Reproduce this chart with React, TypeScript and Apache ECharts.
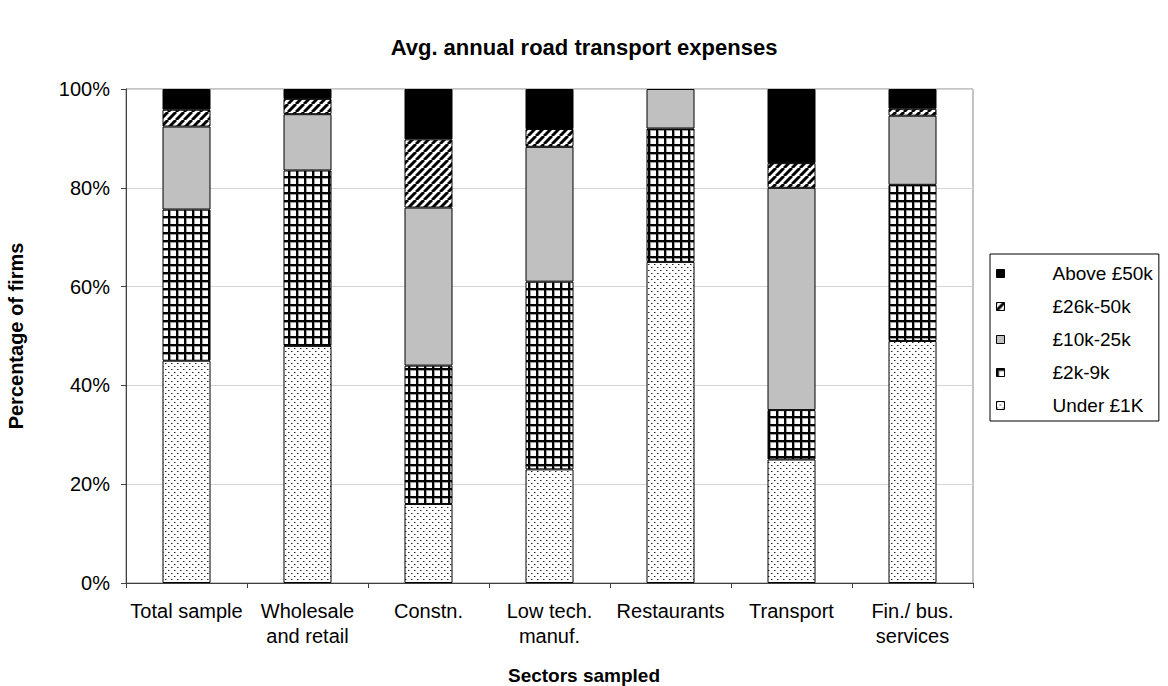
import React, { useEffect, useRef } from "react";
import * as echarts from "echarts";

const categories = [
  "Total sample",
  "Wholesale\nand retail",
  "Constn.",
  "Low tech.\nmanuf.",
  "Restaurants",
  "Transport",
  "Fin./ bus.\nservices",
];
const seriesNames = ["Under £1K", "£2k-9k", "£10k-25k", "£26k-50k", "Above £50k"];
const under1k = [45, 48, 16, 23, 65, 25, 49];
const k2to9 = [30.6, 35.5, 28, 38, 27, 10, 31.6];
const k10to25 = [16.8, 11.4, 32, 27.3, 8, 45, 14];
const k26to50 = [3.4, 3.1, 13.8, 3.6, 0, 5, 1.4];
const above50 = [4.2, 2.0, 10.2, 8.1, 0, 15, 4];
const yTicks = [0, 20, 40, 60, 80, 100];

function makePattern(kind: string): any {
  if (kind === "solidBlack") return "#000000";
  if (kind === "gray") return "#c0c0c0";
  const c = document.createElement("canvas");
  const ctx = c.getContext("2d") as CanvasRenderingContext2D;
  if (kind === "dots") {
    c.width = 6;
    c.height = 6;
    ctx.fillStyle = "#ffffff";
    ctx.fillRect(0, 0, 6, 6);
    ctx.fillStyle = "#9a9a9a";
    ctx.fillRect(1, 0, 1, 1);
    ctx.fillRect(4, 3, 1, 1);
    ctx.fillStyle = "#222222";
    ctx.fillRect(0, 0, 1, 1);
    ctx.fillRect(3, 3, 1, 1);
  } else if (kind === "grid") {
    c.width = 8;
    c.height = 8;
    ctx.fillStyle = "#ffffff";
    ctx.fillRect(0, 0, 8, 8);
    ctx.fillStyle = "#9a9a9a";
    ctx.fillRect(0, 2, 8, 1);
    ctx.fillRect(2, 0, 1, 8);
    ctx.fillStyle = "#000000";
    ctx.fillRect(0, 0, 8, 2);
    ctx.fillRect(0, 0, 2, 8);
  } else if (kind === "hatch") {
    c.width = 8;
    c.height = 8;
    ctx.fillStyle = "#ffffff";
    ctx.fillRect(0, 0, 8, 8);
    ctx.strokeStyle = "#000000";
    ctx.lineWidth = 3;
    for (let o = -8; o <= 8; o += 8) {
      ctx.beginPath();
      ctx.moveTo(o, 8);
      ctx.lineTo(o + 8, 0);
      ctx.stroke();
    }
  }
  return { image: c, repeat: "repeat" };
}

export default function App() {
  const ref = useRef<HTMLDivElement>(null);
  useEffect(() => {
    if (!ref.current) return;
    const chart = echarts.init(ref.current, undefined, { renderer: "svg" });
    const fills = [
      makePattern("dots"),
      makePattern("grid"),
      makePattern("gray"),
      makePattern("hatch"),
      makePattern("solidBlack"),
    ];
    const allData = [under1k, k2to9, k10to25, k26to50, above50];
    const font = "Arial, 'Liberation Sans', sans-serif";
    chart.setOption({
      animation: false,
      backgroundColor: "#ffffff",
      textStyle: { fontFamily: font },
      title: {
        text: "Avg. annual road transport expenses",
        left: "center",
        top: 31,
        textStyle: { fontSize: 22, fontWeight: "bold", color: "#000", fontFamily: font },
      },
      grid: {
        left: 126,
        right: 195,
        top: 89,
        bottom: 103,
        show: true,
        borderColor: "#888888",
        borderWidth: 1,
        backgroundColor: "transparent",
      },
      legend: {
        orient: "vertical",
        left: 990,
        top: 254,
        data: [...seriesNames].reverse(),
        icon: "rect",
        itemWidth: 8,
        itemHeight: 8,
        itemGap: 14,
        padding: [10, 6, 6, 6],
        borderColor: "#000",
        borderWidth: 1,
        backgroundColor: "#fff",
        textStyle: {
          fontSize: 19,
          color: "#000",
          fontFamily: font,
          lineHeight: 18,
          padding: [0, 0, 0, 43],
        },
        itemStyle: { borderColor: "#000", borderWidth: 1 },
      },
      xAxis: {
        type: "category",
        data: categories,
        axisLine: { lineStyle: { color: "#404040", width: 1 } },
        axisTick: { show: true, length: 5, lineStyle: { color: "#404040" } },
        axisLabel: {
          color: "#000",
          fontSize: 20,
          lineHeight: 25,
          margin: 15,
          interval: 0,
          fontFamily: font,
        },
        splitLine: { show: false },
      },
      yAxis: {
        type: "value",
        min: yTicks[0],
        max: yTicks[yTicks.length - 1],
        interval: 20,
        axisLine: { show: true, lineStyle: { color: "#404040", width: 1 } },
        axisTick: { show: true, length: 5, lineStyle: { color: "#404040" } },
        axisLabel: {
          color: "#000",
          fontSize: 20,
          margin: 16,
          formatter: "{value}%",
          fontFamily: font,
        },
        splitLine: { show: true, lineStyle: { color: "#d4d4d4", width: 1 } },
      },
      graphic: [
        {
          type: "text",
          x: 16,
          y: 336,
          rotation: Math.PI / 2,
          style: {
            text: "Percentage of firms",
            fill: "#000",
            font: `bold 20px ${font}`,
            textAlign: "center",
            textVerticalAlign: "middle",
          },
        },
        {
          type: "text",
          x: 584,
          y: 675,
          style: {
            text: "Sectors sampled",
            fill: "#000",
            font: `bold 19px ${font}`,
            textAlign: "center",
            textVerticalAlign: "middle",
          },
        },
      ],
      series: seriesNames.map((name, i) => ({
        name,
        type: "bar",
        stack: "total",
        barWidth: 48,
        data: allData[i].map((v) => (v === 0 ? null : v)),
        itemStyle: { color: fills[i], borderColor: "#000", borderWidth: 1 },
        emphasis: { disabled: true },
      })),
    });
    return () => chart.dispose();
  }, []);
  return (
    <div
      ref={ref}
      style={{ position: "fixed", left: 0, top: 0, width: 1168, height: 686 }}
    />
  );
}
